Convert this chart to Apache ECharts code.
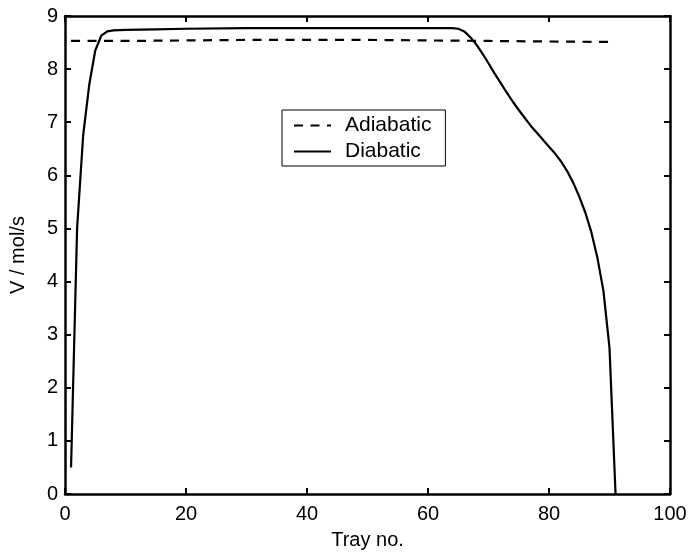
<!DOCTYPE html>
<html>
<head>
<meta charset="utf-8">
<script src="https://cdn.jsdelivr.net/npm/echarts@6/dist/echarts.min.js"></script>
<style>
  html, body { margin: 0; padding: 0; background: #fff; }
  #chart { width: 690px; height: 555px; }
</style>
</head>
<body>
<div id="chart"></div>
<script>
// Vapour flow profile along the column
const xTicks = [0, 20, 40, 60, 80, 100];
const yTicks = [0, 1, 2, 3, 4, 5, 6, 7, 8, 9];

const adiabaticTrays = [1, 10, 20, 30, 40, 50, 60, 70, 80, 91];
const adiabaticV     = [8.53, 8.53, 8.54, 8.55, 8.55, 8.55, 8.54, 8.53, 8.52, 8.51];

const diabaticTrays = [1, 2, 3, 4, 5, 6, 7, 8, 10, 15, 20, 30, 40, 50, 60, 64,
  65, 66, 67, 68, 69, 70, 71, 72, 73, 74, 75, 76, 77, 78, 79, 80,
  81, 82, 83, 84, 85, 86, 87, 88, 89, 90, 91];
const diabaticV = [0.5, 5.0, 6.75, 7.7, 8.35, 8.63, 8.71, 8.73, 8.74, 8.75, 8.76, 8.77, 8.77, 8.77, 8.77, 8.77,
  8.76, 8.71, 8.60, 8.46, 8.29, 8.11, 7.92, 7.74, 7.56, 7.39, 7.23, 7.08, 6.93, 6.80, 6.67, 6.54,
  6.41, 6.26, 6.08, 5.86, 5.60, 5.30, 4.93, 4.45, 3.82, 2.75, 0.0];

const pair = (xs, ys) => xs.map((x, i) => [x, ys[i]]);

const FONT = '"Liberation Sans", Arial, Helvetica, sans-serif';
const BLACK = '#000';

const baseAxis = {
  type: 'value',
  axisLine: { show: true, onZero: false, lineStyle: { color: BLACK, width: 2.5 } },
  axisTick: { show: true, inside: true, length: 6, lineStyle: { color: BLACK, width: 2 } },
  splitLine: { show: false }
};

const chart = echarts.init(document.getElementById('chart'), null, { renderer: 'canvas' });
chart.setOption({
  animation: false,
  backgroundColor: '#fff',
  grid: { left: 57, right: 20, top: 16, bottom: 54, containLabel: false },
  xAxis: [
    Object.assign({}, baseAxis, {
      position: 'bottom', min: xTicks[0], max: xTicks[xTicks.length - 1], interval: 20,
      name: 'Tray no.', nameLocation: 'middle', nameGap: 36,
      nameTextStyle: { color: BLACK, fontFamily: FONT, fontSize: 20 },
      axisLabel: { color: BLACK, fontFamily: FONT, fontSize: 20, margin: 10 }
    }),
    Object.assign({}, baseAxis, {
      position: 'top', min: xTicks[0], max: xTicks[xTicks.length - 1], interval: 20,
      axisLabel: { show: false }
    })
  ],
  yAxis: [
    Object.assign({}, baseAxis, {
      position: 'left', min: yTicks[0], max: yTicks[yTicks.length - 1], interval: 1,
      name: 'V / mol/s', nameLocation: 'middle', nameGap: 37, nameRotate: 90,
      nameTextStyle: { color: BLACK, fontFamily: FONT, fontSize: 20 },
      axisLabel: { color: BLACK, fontFamily: FONT, fontSize: 20, margin: 7 }
    }),
    Object.assign({}, baseAxis, {
      position: 'right', min: yTicks[0], max: yTicks[yTicks.length - 1], interval: 1,
      axisLabel: { show: false }
    })
  ],
  legend: {
    orient: 'vertical',
    left: 282, top: 110,
    backgroundColor: '#fff',
    borderColor: BLACK, borderWidth: 1,
    padding: [5, 14, 4, 11],
    itemWidth: 37, itemHeight: 14, itemGap: 5,
    itemStyle: { opacity: 0 },
    textStyle: { color: BLACK, fontFamily: FONT, fontSize: 21, lineHeight: 20, padding: [0, 0, 0, 9] },
    data: ['Adiabatic', 'Diabatic']
  },
  series: [
    {
      name: 'Adiabatic', type: 'line', symbol: 'none',
      data: pair(adiabaticTrays, adiabaticV),
      lineStyle: { color: BLACK, width: 2.2, type: [9, 7.5] },
      itemStyle: { color: BLACK }
    },
    {
      name: 'Diabatic', type: 'line', symbol: 'none',
      data: pair(diabaticTrays, diabaticV),
      lineStyle: { color: BLACK, width: 2.2 },
      itemStyle: { color: BLACK }
    }
  ]
});
</script>
</body>
</html>
